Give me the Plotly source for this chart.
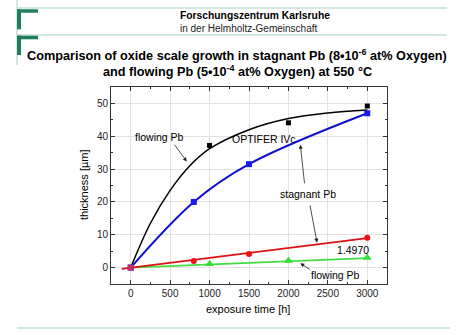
import plotly.graph_objects as go

# ---- data ----
flow_x = [0, 1000, 2000, 3000]
flow_y = [0, 37.2, 44.1, 49.2]
flow_fit_x = [0, 250, 500, 750, 1000, 1500, 2000, 2500, 3000]
flow_fit_y = [0, 13.5, 23.5, 31.0, 36.2, 42.0, 45.4, 47.1, 48.0]

stag_x = [0, 800, 1500, 3000]
stag_y = [0, 20.0, 31.5, 47.0]

red_x = [0, 800, 1500, 3000]
red_y = [0, 2.0, 4.1, 9.1]
red_fit_x = [-115, 3000]
red_fit_y = [-0.4, 9.0]

green_x = [0, 1000, 2000, 3000]
green_y = [0, 1.1, 2.1, 3.0]
green_fit_x = [0, 1000, 2000, 3000]
green_fit_y = [0, 1.0, 2.0, 2.9]

x_ticks = [0, 500, 1000, 1500, 2000, 2500, 3000]
y_ticks = [0, 10, 20, 30, 40, 50]

W, H = 474, 335
L, R, T, B = 111, 387, 87, 284

def px(x):
    return (x - L) / (R - L)

def py(y):
    return (B - y) / (B - T)

fig = go.Figure()

fig.add_trace(go.Scatter(x=flow_fit_x, y=flow_fit_y, mode="lines",
                         line=dict(color="black", width=1.5, shape="spline"), showlegend=False))
fig.add_trace(go.Scatter(x=flow_x, y=flow_y, mode="markers",
                         marker=dict(symbol="square", color="black", size=5), showlegend=False))
fig.add_trace(go.Scatter(x=stag_x, y=stag_y, mode="lines+markers",
                         line=dict(color="#1010cc", width=2, shape="spline"),
                         marker=dict(symbol="square", color="#1a1aee", size=6), showlegend=False))
fig.add_trace(go.Scatter(x=green_fit_x, y=green_fit_y, mode="lines",
                         line=dict(color="#44dd44", width=1.8), showlegend=False))
fig.add_trace(go.Scatter(x=green_x[1:], y=green_y[1:], mode="markers",
                         marker=dict(symbol="triangle-up", color="#33dd33", size=8), showlegend=False))
fig.add_trace(go.Scatter(x=red_fit_x, y=red_fit_y, mode="lines",
                         line=dict(color="#dd1111", width=1.8), showlegend=False))
fig.add_trace(go.Scatter(x=red_x[1:], y=red_y[1:], mode="markers",
                         marker=dict(symbol="circle", color="#ee1111", size=6), showlegend=False))
fig.add_trace(go.Scatter(x=red_x[:1], y=red_y[:1], mode="markers",
                         marker=dict(symbol="square", color="#c0306a", size=6), showlegend=False))

font = "Arial, Liberation Sans, sans-serif"
ann = []
def text(x, y, s, size=10.5):
    ann.append(dict(x=x, y=y, xref="x", yref="y", text=s, showarrow=False,
                    font=dict(family=font, size=size, color="black")))

def arrow(x0, y0, x1, y1):
    ann.append(dict(x=x1, y=y1, ax=x0, ay=y0, xref="x", yref="y", axref="x", ayref="y",
                    text="", showarrow=True, arrowhead=2, arrowsize=1, arrowwidth=0.8,
                    arrowcolor="#222"))

text(360, 39.8, "flowing Pb")
arrow(541, 37.9, 711, 32.3)
text(1694, 39.2, "OPTIFER IVc")
text(2254, 22.4, "stagnant Pb")
arrow(2206, 25.2, 2151, 37.4)
arrow(2270, 19.4, 2363, 7.6)
text(2813, 5.4, "1.4970")
text(2595, -2.2, "flowing Pb")
arrow(2291, -0.9, 2151, 1.3)

# header texts
ann.append(dict(x=px(178), y=py(16), xref="paper", yref="paper", xanchor="left", yanchor="middle",
                text="<b>Forschungszentrum Karlsruhe</b>", showarrow=False,
                font=dict(family=font, size=10.3, color="black")))
ann.append(dict(x=px(178), y=py(28), xref="paper", yref="paper", xanchor="left", yanchor="middle",
                text="in der Helmholtz-Gemeinschaft", showarrow=False,
                font=dict(family=font, size=10, color="#222")))
ann.append(dict(x=px(237), y=py(55), xref="paper", yref="paper", xanchor="center", yanchor="middle",
                text="<b>Comparison of oxide scale growth in stagnant Pb (8•10<sup>-6</sup> at% Oxygen)</b>",
                showarrow=False, font=dict(family=font, size=12.7, color="black")))
ann.append(dict(x=px(237), y=py(71), xref="paper", yref="paper", xanchor="center", yanchor="middle",
                text="<b>and flowing Pb (5•10<sup>-4</sup> at% Oxygen) at 550 °C</b>",
                showarrow=False, font=dict(family=font, size=12.7, color="black")))
# axis titles
ann.append(dict(x=px(84), y=py(185), xref="paper", yref="paper", xanchor="center", yanchor="middle",
                text="thickness [µm]", textangle=-90, showarrow=False,
                font=dict(family=font, size=11, color="black")))
ann.append(dict(x=px(248), y=py(309), xref="paper", yref="paper", xanchor="center", yanchor="middle",
                text="exposure time [h]", showarrow=False,
                font=dict(family=font, size=11, color="black")))

shapes = []
thin = "#a9d0c6"
green = "#1e7d5c"
def pline(x0, y0, x1, y1, c, w=1):
    shapes.append(dict(type="line", xref="paper", yref="paper", x0=px(x0), y0=py(y0),
                       x1=px(x1), y1=py(y1), line=dict(color=c, width=w)))
def prect(x0, y0, x1, y1, c):
    shapes.append(dict(type="rect", xref="paper", yref="paper", x0=px(x0), y0=py(y0),
                       x1=px(x1), y1=py(y1), fillcolor=c, line=dict(width=0)))
pline(17, 8, 447, 8, thin)
pline(17, 35, 447, 35, thin)
pline(17, 0, 17, 65, thin)
pline(17, 328, 450, 328, thin)
prect(17, 9.3, 21, 29.3, green)
prect(17, 9.3, 38, 12.7, green)
prect(17, 35.7, 21, 55, green)
prect(17, 35.7, 38, 39.3, green)

axis_common = dict(showline=True, linecolor="#333", linewidth=1, mirror="ticks",
                   ticks="inside", ticklen=4, tickcolor="#333",
                   showgrid=True, gridcolor="#e2e2e2", gridwidth=1, zeroline=False,
                   tickfont=dict(family=font, size=10, color="#222"),
                   minor=dict(ticks="inside", ticklen=2, tickcolor="#333", showgrid=False))

fig.update_xaxes(range=[-250, 3250], tickvals=x_ticks, **axis_common)
fig.update_xaxes(minor_dtick=250)
fig.update_yaxes(range=[-5, 55], tickvals=y_ticks, **axis_common)
fig.update_yaxes(minor_dtick=5)

fig.update_layout(width=W, height=H, margin=dict(l=L, r=W - R, t=T, b=H - B),
                  plot_bgcolor="white", paper_bgcolor="white",
                  annotations=ann, shapes=shapes)

fig.write_html("out.html")
